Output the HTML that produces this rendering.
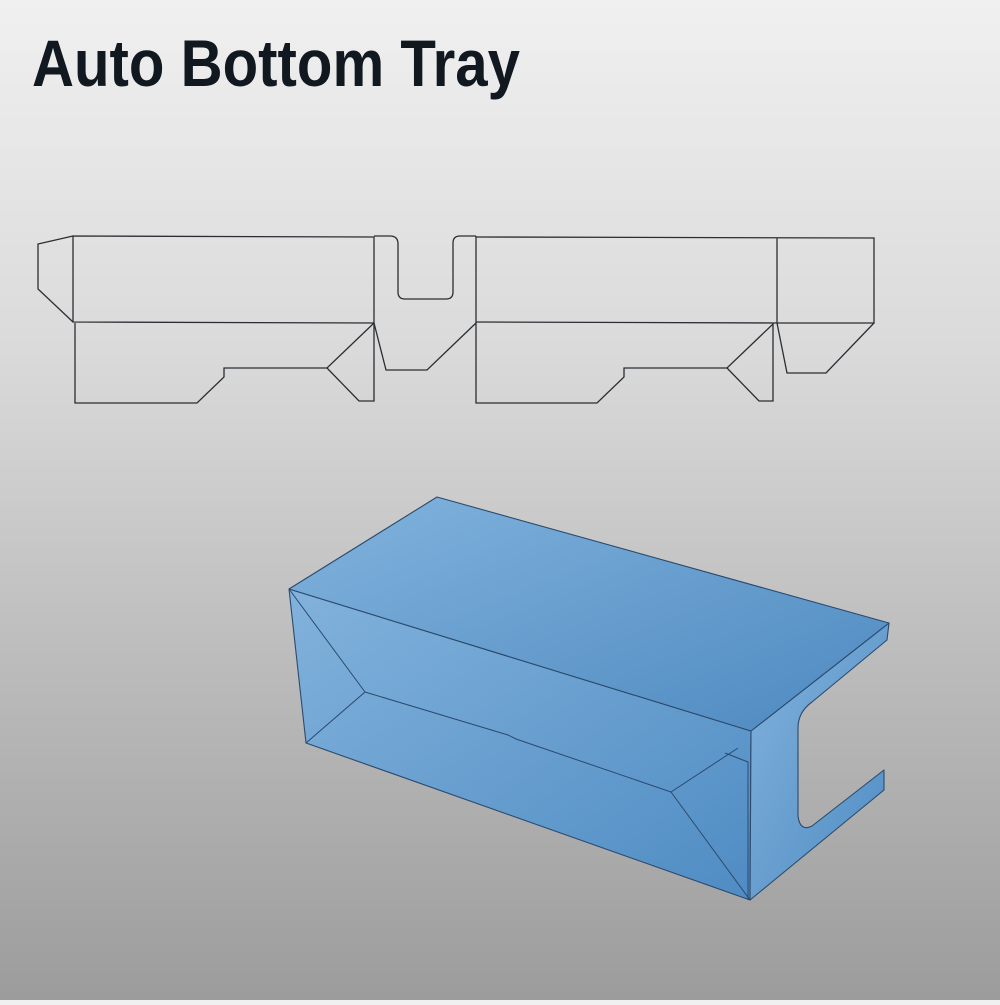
<!DOCTYPE html>
<html><head><meta charset="utf-8"><style>
html,body{margin:0;padding:0;}
body{width:1000px;height:1000px;overflow:hidden;background:linear-gradient(#f0f0f0 0%,#dadada 35%,#b8b8b8 70%,#9c9c9c 100%);}
</style></head><body>
<svg width="1000" height="1000" viewBox="0 0 1000 1000" xmlns="http://www.w3.org/2000/svg">
<defs>
<linearGradient id="top" x1="0" y1="0" x2="1" y2="1">
<stop offset="0" stop-color="#82b3dd"/><stop offset="1" stop-color="#4d89c0"/></linearGradient>
<linearGradient id="side" x1="0" y1="0" x2="1" y2="1">
<stop offset="0" stop-color="#82b2dc"/><stop offset="1" stop-color="#4f8cc3"/></linearGradient>
</defs>
<text x="32" y="86" font-family="Liberation Sans, sans-serif" font-weight="bold" font-size="66" fill="#111820" textLength="488" lengthAdjust="spacingAndGlyphs">Auto Bottom Tray</text>

<g fill="none" stroke="#2a2e33" stroke-width="1.3">
<!-- left tuck -->
<path d="M73,236 L38,244 L38,289 L73,322"/>
<path d="M73,236 L374,237 L374,323 L73,322 Z"/>
<path d="M75,323 L75,403 L197,403 L224,377 L224,368 L327,368 L374,323"/>
<path d="M327,368 L359,401 L374,401 L374,323"/>
<path d="M374,236 L390,236 Q398,236 398,244 L398,292 Q398,299 405,299 L446,299 Q453,299 453,292 L453,243 Q453,236 460,236 L476,236"/>
<path d="M374,323 L386,370 L427,370 L476,323"/>
<path d="M476,236 L476,403 L597,403 L624,377 L624,368 L727,368 L773,324 L773,401 L759,401 L727,368"/>
<path d="M476,322 L777,323"/>
<path d="M476,237 L874,238 L874,323 L777,323 M777,238 L777,323"/>
<path d="M777,323 L787,373 L826,373 L874,323"/>
</g>

<g stroke="#2b4a6e" stroke-width="1.1" stroke-linejoin="round">
<!-- left face + bottom -->
<path d="M289,589 L751,731 L750,900 L306,743 Z" fill="url(#side)"/>
<!-- right end face with C cut -->
<path d="M751,731 L889,623 L887,640 L812,702 Q798,712 798,728 L798,816 Q800,832 812,826 L884,770 L884,790 L750,900 Z" fill="url(#side)"/>
<!-- top -->
<path d="M437,497 L889,623 L751,731 L289,589 Z" fill="url(#top)"/>
</g>
<g fill="none" stroke="#2b4a6e" stroke-width="1">
<path d="M289,589 L365,692 L306,743"/>
<path d="M365,692 L508,735 Q512,737 516,739 L671,792 L750,900"/>
<path d="M671,792 L738,748"/>
<path d="M725,753 L748,762 L748,900"/>
</g>
</svg>
</body></html>
